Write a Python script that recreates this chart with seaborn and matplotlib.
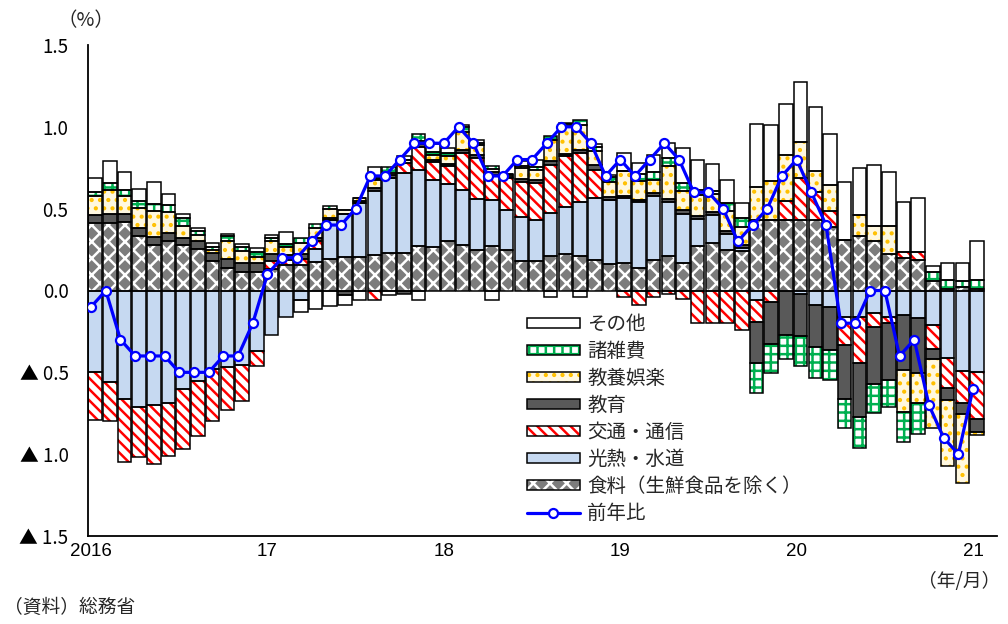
import numpy as np
import pandas as pd
import matplotlib
matplotlib.use("Agg")
import matplotlib.pyplot as plt
from matplotlib.patches import Patch
from matplotlib.lines import Line2D
import seaborn as sns

# 消費者物価（生鮮食品を除く総合）前年比と品目別寄与度, 2016年1月～2021年1月
food = [0.41, 0.41, 0.42, 0.33, 0.28, 0.30, 0.275, 0.255, 0.18, 0.14, 0.11, 0.11,
        0.13, 0.155, 0.155, 0.175, 0.19, 0.205, 0.205, 0.215, 0.23, 0.23, 0.27, 0.265,
        0.30, 0.28, 0.245, 0.27, 0.245, 0.18, 0.18, 0.21, 0.22, 0.21, 0.185, 0.16,
        0.165, 0.14, 0.185, 0.21, 0.17, 0.27, 0.29, 0.245, 0.24, 0.43, 0.43, 0.43,
        0.43, 0.43, 0.385, 0.31, 0.33, 0.30, 0.225, 0.20, 0.185, 0.06, 0.01, 0.02,
        0.01]
energy = [-0.50, -0.56, -0.66, -0.71, -0.70, -0.69, -0.60, -0.55, -0.48, -0.465, -0.455, -0.37,
          -0.27, -0.16, -0.06, 0.08, 0.24, 0.265, 0.33, 0.39, 0.46, 0.49, 0.465, 0.41,
          0.35, 0.335, 0.315, 0.28, 0.245, 0.27, 0.25, 0.265, 0.29, 0.33, 0.38, 0.39,
          0.40, 0.40, 0.39, 0.33, 0.30, 0.165, 0.17, 0.10, 0.02, -0.06, 0.0, 0.0,
          -0.02, -0.09, -0.10, -0.16, -0.16, -0.14, -0.16, -0.15, -0.17, -0.21, -0.415, -0.49,
          -0.50]
transport = [-0.29, -0.235, -0.39, -0.31, -0.36, -0.32, -0.37, -0.34, -0.32, -0.265, -0.22, -0.09,
             0.05, 0.03, 0.035, 0.045, 0.0, 0.0, 0.0, -0.055, 0.0, 0.06, 0.14, 0.11,
             0.11, 0.225, 0.25, 0.155, 0.195, 0.21, 0.225, 0.29, 0.31, 0.30, 0.17, 0.0,
             -0.04, -0.09, -0.04, -0.02, -0.05, -0.20, -0.20, -0.20, -0.24, -0.13, -0.07, 0.115,
             0.255, 0.17, 0.10, -0.17, -0.28, -0.08, -0.04, 0.035, 0.05, -0.15, -0.18, -0.195,
             -0.285]
education = [0.053, 0.057, 0.05, 0.05, 0.045, 0.05, 0.047, 0.05, 0.05, 0.055, 0.06, 0.06,
             0.04, 0.03, 0.03, 0.02, 0.015, -0.03, 0.01, 0.02, 0.015, -0.02, 0.02, 0.015,
             0.01, 0.02, 0.02, 0.02, 0.01, 0.02, 0.02, 0.027, 0.016, 0.02, 0.03, 0.02,
             0.015, 0.015, 0.02, 0.02, 0.02, 0.02, 0.02, 0.02, 0.02, -0.255, -0.255, -0.27,
             -0.26, -0.255, -0.265, -0.33, -0.335, -0.35, -0.345, -0.335, -0.335, -0.06, -0.075, -0.07,
             -0.08]
culture = [0.116, 0.15, 0.11, 0.127, 0.16, 0.13, 0.073, 0.033, 0.015, 0.11, 0.07, 0.035,
           0.085, 0.05, 0.07, 0.06, 0.05, 0.02, 0.02, 0.05, 0.01, 0.02, 0.02, 0.025,
           0.05, 0.11, 0.06, 0.02, 0.01, 0.07, 0.06, 0.13, 0.17, 0.15, 0.09, 0.095,
           0.15, 0.115, 0.08, 0.20, 0.115, 0.13, 0.11, 0.12, 0.11, 0.20, 0.24, 0.285,
           0.22, 0.13, 0.16, 0.0, 0.13, 0.095, 0.17, -0.255, -0.185, -0.42, -0.40, -0.42,
           -0.02]
misc = [0.02, 0.04, 0.037, 0.04, 0.045, 0.045, 0.045, 0.025, 0.02, 0.03, 0.027, 0.03,
        0.016, 0.02, 0.03, 0.025, 0.02, 0.0, 0.0, 0.01, 0.04, 0.0, 0.04, 0.02,
        0.02, 0.03, 0.01, 0.015, 0.005, 0.01, 0.02, 0.02, 0.01, 0.03, 0.02, 0.03,
        0.0, 0.04, 0.05, 0.05, 0.05, 0.03, 0.02, 0.05, 0.05, -0.18, -0.18, -0.15,
        -0.18, -0.19, -0.18, -0.18, -0.185, -0.18, -0.165, -0.185, -0.185, 0.05, 0.055, 0.035,
        0.055]
other = [0.088, 0.137, 0.11, 0.075, 0.13, 0.065, 0.03, 0.02, 0.025, 0.01, 0.02, 0.025,
         0.02, 0.07, -0.07, -0.11, -0.095, -0.06, -0.055, 0.07, -0.03, 0.02, -0.06, 0.05,
         0.03, 0.01, 0.02, -0.06, 0.0, 0.03, 0.04, -0.04, 0.01, -0.04, 0.02, 0.01,
         0.11, 0.07, 0.10, 0.09, 0.215, 0.18, 0.16, 0.14, 0.095, 0.39, 0.34, 0.31,
         0.37, 0.39, 0.31, 0.35, 0.29, 0.37, 0.33, 0.305, 0.33, 0.04, 0.105, 0.11,
         0.235]
yoy = [-0.1, 0.0, -0.3, -0.4, -0.4, -0.4, -0.5, -0.5, -0.5, -0.4, -0.4, -0.2,
       0.1, 0.2, 0.2, 0.3, 0.4, 0.4, 0.5, 0.7, 0.7, 0.8, 0.9, 0.9,
       0.9, 1.0, 0.9, 0.7, 0.7, 0.8, 0.8, 0.9, 1.0, 1.0, 0.9, 0.7,
       0.8, 0.7, 0.8, 0.9, 0.8, 0.6, 0.6, 0.5, 0.3, 0.4, 0.5, 0.7,
       0.8, 0.6, 0.4, -0.2, -0.2, 0.0, 0.0, -0.4, -0.3, -0.7, -0.9, -1.0,
       -0.6]

year_labels = ["2016", "17", "18", "19", "20", "21"]
ytick_vals = [1.5, 1.0, 0.5, 0.0, -0.5, -1.0, -1.5]
ytick_labels = ["1.5", "1.0", "0.5", "0.0", "▲ 0.5", "▲ 1.0", "▲ 1.5"]

# name, values, face, hatch colour, hatch
series = [
    ("食料（生鮮食品を除く）", food, "#7c7c7c", "white", "xx"),
    ("光熱・水道", energy, "#c6d9f1", None, None),
    ("交通・通信", transport, "white", "#ff0000", "\\\\\\"),
    ("教育", education, "#595959", None, None),
    ("教養娯楽", culture, "#fff8e0", "#ffc000", ".."),
    ("諸雑費", misc, "white", "#00b050", "++"),
    ("その他", other, "white", None, None),
]

sns.set_style("white")
plt.rcParams["font.family"] = ["Noto Sans CJK JP", "DejaVu Sans"]
plt.rcParams["hatch.linewidth"] = 1.8
num_font = ["Liberation Sans", "Noto Sans CJK JP"]

fig = plt.figure(figsize=(10.08, 6.24), dpi=100)
ax = fig.add_axes([88 / 1008, 88 / 624, 909 / 1008, 491 / 624])

x = np.arange(len(yoy))
W = 0.92
pos = np.zeros(len(x))
neg = np.zeros(len(x))
handles = []
for name, vals, face, hcol, hatch in series:
    v = np.array(vals)
    bottom = np.where(v >= 0, pos, neg)
    ax.bar(x, v, W, bottom=bottom, color=face, edgecolor=hcol or face,
           hatch=hatch, linewidth=0, zorder=2)
    ax.bar(x, v, W, bottom=bottom, fill=False, edgecolor="black", linewidth=1.1, zorder=3)
    pos += np.where(v > 0, v, 0)
    neg += np.where(v < 0, v, 0)
    h1 = Patch(facecolor=face, edgecolor=hcol or face, hatch=hatch, linewidth=0)
    h2 = Patch(facecolor="none", edgecolor="black", linewidth=1.1)
    handles.append(((h1, h2), name))

df = pd.DataFrame({"x": x - 0.27, "yoy": yoy})
sns.lineplot(data=df, x="x", y="yoy", ax=ax, color="#0000ff", linewidth=2.3,
             marker="o", markersize=6.5, markerfacecolor="white",
             markeredgecolor="#0000ff", markeredgewidth=1.6, zorder=5)

ax.set_xlim(-0.48, 61.36)
ax.set_ylim(-1.5, 1.5)
ax.set_yticks(ytick_vals)
ax.set_yticklabels(ytick_labels)
ax.set_xticks(np.arange(0, 61, 12) - 0.27)
ax.set_xticklabels(year_labels, family=num_font)
ax.set_xlabel("")
ax.set_ylabel("")
ax.tick_params(axis="y", direction="in", length=5, width=1, pad=14, labelsize=13.5, colors="black")
ax.tick_params(axis="x", direction="in", length=4, width=1, pad=5, labelsize=13.5, colors="black")
for s in ["top", "right"]:
    ax.spines[s].set_visible(False)
for s in ["left", "bottom"]:
    ax.spines[s].set_color("black")
    ax.spines[s].set_linewidth(1.3)

line_h = Line2D([], [], color="#0000ff", linewidth=2.3, marker="o", markersize=6.5,
                markerfacecolor="white", markeredgecolor="#0000ff", markeredgewidth=1.6)
leg_items = handles[::-1] + [(line_h, "前年比")]
ax.legend([h for h, _ in leg_items], [n for _, n in leg_items],
          loc="upper left", bbox_to_anchor=(527 / 1008, 1 - 314 / 624),
          bbox_transform=fig.transFigure, frameon=False, fontsize=14,
          handlelength=2.7, handleheight=0.45, handletextpad=0.4,
          labelspacing=0.31, borderpad=0, borderaxespad=0)

fig.text(86 / 1008, 1 - 21 / 624, "（%）", ha="center", va="center", fontsize=14)
fig.text(1000 / 1008, 1 - 581 / 624, "（年/月）", ha="right", va="center", fontsize=13.5)
fig.text(4 / 1008, 1 - 607 / 624, "（資料）総務省", ha="left", va="center", fontsize=13.5)

fig.savefig("out.png", dpi=100)
